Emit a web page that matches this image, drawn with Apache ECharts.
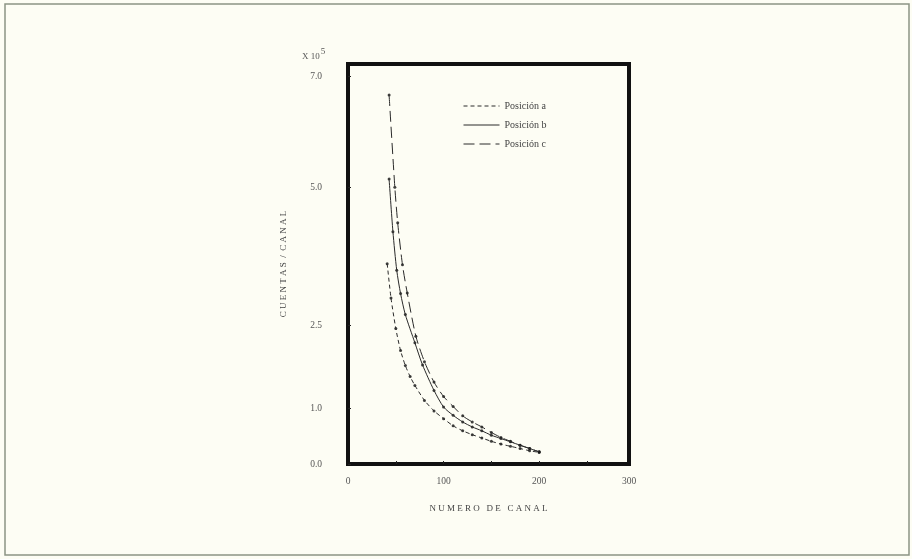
<!DOCTYPE html>
<html>
<head>
<meta charset="utf-8">
<script src="https://cdn.jsdelivr.net/npm/echarts@6/dist/echarts.min.js"></script>
<style>
html,body{margin:0;padding:0;background:#fdfdf4;}
#chart{width:912px;height:559px;}
</style>
</head>
<body>
<div id="chart"></div>
<script>
// Data (counts per channel, x 10^5)
const channelsA = [41, 45, 50, 55, 60, 65, 70, 80, 90, 100, 110, 120, 130, 140, 150, 160, 170, 180, 190, 200];
const valuesA   = [3.62, 3.0, 2.45, 2.05, 1.78, 1.58, 1.42, 1.15, 0.96, 0.82, 0.69, 0.60, 0.53, 0.47, 0.41, 0.36, 0.32, 0.28, 0.24, 0.21];
const channelsB = [43, 47, 51, 55, 60, 70, 78, 90, 100, 110, 120, 130, 140, 150, 160, 170, 180, 190, 200];
const valuesB   = [5.15, 4.2, 3.5, 3.08, 2.7, 2.19, 1.79, 1.33, 1.03, 0.88, 0.76, 0.67, 0.60, 0.52, 0.46, 0.40, 0.34, 0.28, 0.22];
const channelsC = [43, 49, 52, 57, 62, 71, 80, 90, 100, 110, 120, 130, 140, 150, 160, 170, 180, 190, 200];
const valuesC   = [6.67, 5.0, 4.36, 3.6, 3.09, 2.31, 1.85, 1.48, 1.22, 1.04, 0.87, 0.76, 0.67, 0.57, 0.48, 0.41, 0.34, 0.28, 0.22];
const seriesNames = ['Posición a', 'Posición b', 'Posición c'];
const yTickValues = [0, 1, 2.5, 5, 7];
const xTickValues = [50, 100, 150, 200, 250];
const xLabelValues = [0, 100, 200, 294];
const xLabelText = {0: '0', 100: '100', 200: '200', 294: '300'};

const zip = (xs, ys) => xs.map((x, i) => [x, ys[i]]);
const FONT = 'Liberation Serif';
const ink = '#2a2a2a';

const chart = echarts.init(document.getElementById('chart'));
const dashes = [[4, 3], null, [11, 5]];
const dataSets = [zip(channelsA, valuesA), zip(channelsB, valuesB), zip(channelsC, valuesC)];

const series = [];
dataSets.forEach((d, i) => {
  series.push({
    name: seriesNames[i], type: 'line', data: d, symbol: 'none', smooth: 0.25,
    legendIcon: 'none',
    lineStyle: { color: ink, width: 1, type: dashes[i] || 'solid' },
    itemStyle: { color: ink }
  });
});
dataSets.forEach((d, i) => {
  series.push({
    name: 'pts' + i, type: 'scatter', data: d, symbol: 'circle', symbolSize: 3,
    itemStyle: { color: '#111' }, silent: true
  });
});

chart.setOption({
  backgroundColor: '#fdfdf4',
  animation: false,
  graphic: [{
    type: 'rect', shape: { x: 5, y: 4, width: 904, height: 551 },
    style: { fill: 'none', stroke: '#8c9484', lineWidth: 1.5 }
  }],
  title: {
    text: '{a|X 10}{s|5}', left: 297, top: 40,
    textStyle: { fontWeight: 'normal', rich: {
      a: { fontFamily: FONT, fontSize: 9, fontWeight: 'normal', color: '#555', padding: [7, 0, 0, 0] },
      s: { fontFamily: FONT, fontSize: 9, fontWeight: 'normal', color: '#555', padding: [0, 0, 2, 1] }
    } }
  },
  legend: {
    data: seriesNames, orient: 'vertical', left: 458, top: 96,
    itemWidth: 36, itemHeight: 10, itemGap: 9,
    itemStyle: { opacity: 0 },
    lineStyle: { width: 1 },
    textStyle: { fontFamily: FONT, fontSize: 10, color: '#444' }
  },
  grid: {
    left: 348, top: 64, width: 281, height: 400,
    show: true, borderColor: '#111', borderWidth: 4, backgroundColor: 'transparent'
  },
  xAxis: {
    type: 'value', min: 0, max: 294,
    name: 'N U M E R O   D E   C A N A L', nameLocation: 'middle', nameGap: 40,
    nameTextStyle: { fontFamily: FONT, fontSize: 9, color: '#444' },
    axisLine: { show: false }, splitLine: { show: false },
    axisTick: { show: true, inside: true, length: 3, customValues: xTickValues, lineStyle: { color: '#222', width: 1 } },
    axisLabel: { customValues: xLabelValues, margin: 12, fontFamily: FONT, fontSize: 9.5, color: '#555',
      formatter: v => xLabelText[v] !== undefined ? xLabelText[v] : '' }
  },
  yAxis: {
    type: 'value', min: 0, max: 7.23,
    name: 'C U E N T A S  /  C A N A L', nameLocation: 'middle', nameGap: 60,
    nameTextStyle: { fontFamily: FONT, fontSize: 9, color: '#444' },
    axisLine: { show: false }, splitLine: { show: false },
    axisTick: { show: true, inside: true, length: 3, customValues: yTickValues, lineStyle: { color: '#222', width: 1 } },
    axisLabel: { customValues: yTickValues, margin: 26, fontFamily: FONT, fontSize: 9.5, color: '#555',
      formatter: v => v.toFixed(1) }
  },
  series: series
});
</script>
</body>
</html>
